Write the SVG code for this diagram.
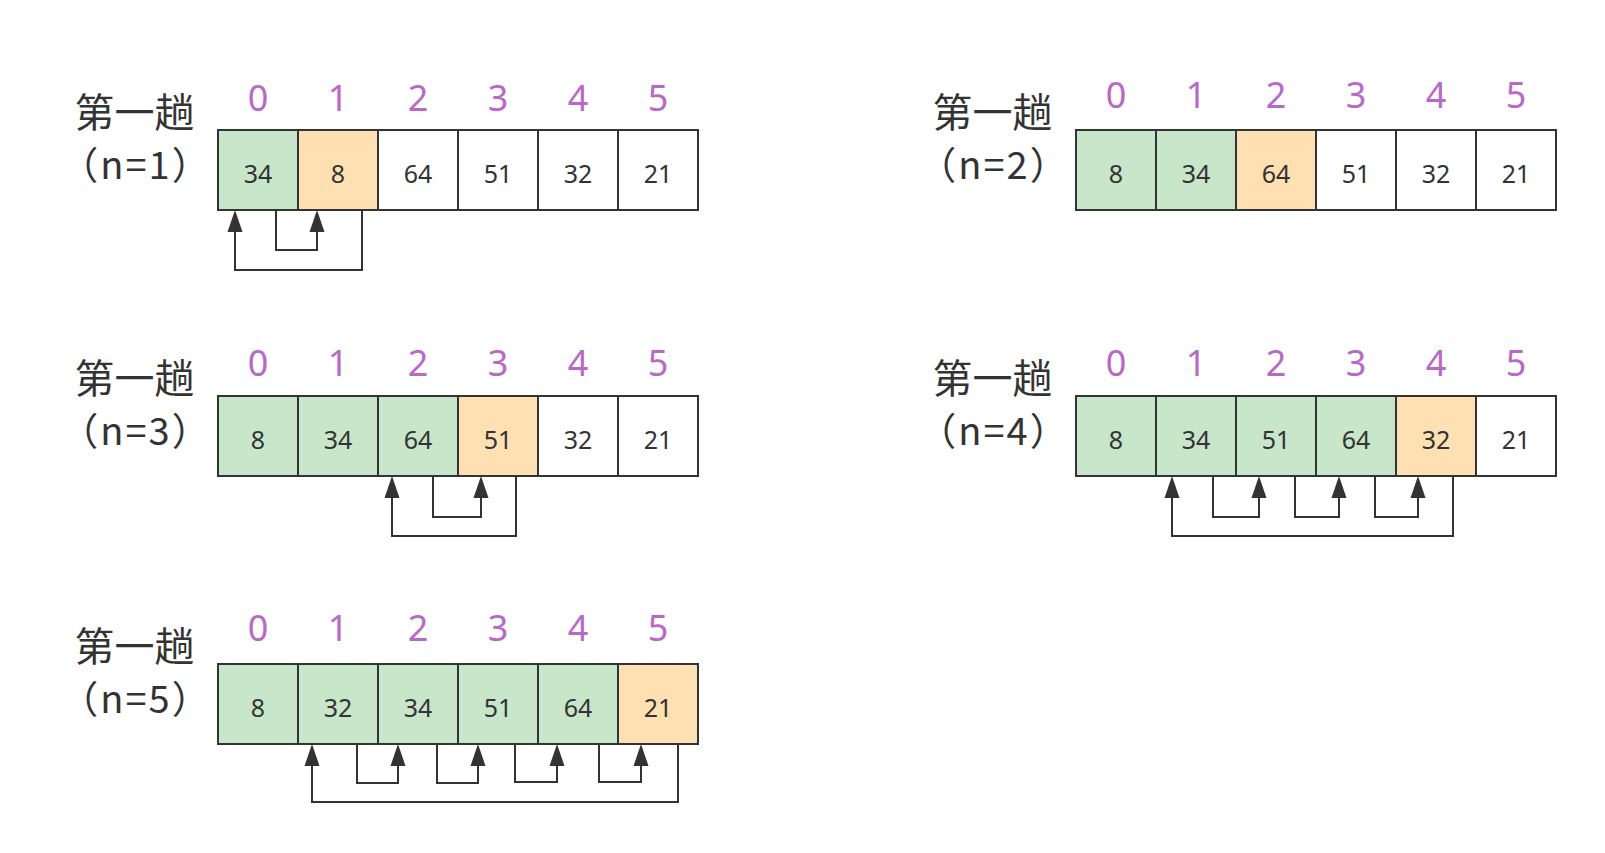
<svg xmlns="http://www.w3.org/2000/svg" width="1605" height="853" viewBox="0 0 1605 853">
<style>
.cell rect{stroke:#333333;stroke-width:2}
.g rect{fill:#C8E6C9}
.o rect{fill:#FFE0B2}
.w rect{fill:#FFFFFF}
.cell text{font-family:"Noto Sans","Noto Sans CJK SC",sans-serif;font-size:25px;fill:#333333;text-anchor:middle}
.idx{font-family:"Noto Sans","Noto Sans CJK SC",sans-serif;font-size:36px;fill:#BA68C8;text-anchor:middle}
.lbl{font-family:"Noto Sans CJK SC","Noto Sans",sans-serif;fill:#333333;text-anchor:middle}
.l1{font-size:40px}
.l2{font-size:38px;letter-spacing:2px}
.conn path{fill:none;stroke:#333333;stroke-width:2;marker-end:url(#ah)}
</style>
<defs>
<marker id="ah" markerUnits="userSpaceOnUse" markerWidth="24" markerHeight="18" refX="0" refY="8" orient="auto" viewBox="0 0 24 16" overflow="visible">
<path d="M0,0.5 L22,8 L0,15.5 Z" fill="#333333"/>
</marker>
</defs>
<rect width="1605" height="853" fill="#FFFFFF"/>

<!-- Panel 1 -->
<g id="pass1">
<text class="lbl l1" x="134.5" y="127">第一趟</text>
<text class="lbl l2" x="136" y="179">（n=1）</text>
<g class="idx-row"><text class="idx" x="258" y="111">0</text><text class="idx" x="338" y="111">1</text><text class="idx" x="418" y="111">2</text><text class="idx" x="498" y="111">3</text><text class="idx" x="578" y="111">4</text><text class="idx" x="658" y="111">5</text></g>
<g id="p1c0" class="cell g"><rect x="218" y="130" width="80" height="80"/><text x="258" y="183">34</text></g>
<g id="p1c1" class="cell o"><rect x="298" y="130" width="80" height="80"/><text x="338" y="183">8</text></g>
<g id="p1c2" class="cell w"><rect x="378" y="130" width="80" height="80"/><text x="418" y="183">64</text></g>
<g id="p1c3" class="cell w"><rect x="458" y="130" width="80" height="80"/><text x="498" y="183">51</text></g>
<g id="p1c4" class="cell w"><rect x="538" y="130" width="80" height="80"/><text x="578" y="183">32</text></g>
<g id="p1c5" class="cell w"><rect x="618" y="130" width="80" height="80"/><text x="658" y="183">21</text></g>
</g>

<!-- Panel 2 -->
<g id="pass2">
<text class="lbl l1" x="992.5" y="127">第一趟</text>
<text class="lbl l2" x="994" y="179">（n=2）</text>
<g class="idx-row"><text class="idx" x="1116" y="108">0</text><text class="idx" x="1196" y="108">1</text><text class="idx" x="1276" y="108">2</text><text class="idx" x="1356" y="108">3</text><text class="idx" x="1436" y="108">4</text><text class="idx" x="1516" y="108">5</text></g>
<g id="p2c0" class="cell g"><rect x="1076" y="130" width="80" height="80"/><text x="1116" y="183">8</text></g>
<g id="p2c1" class="cell g"><rect x="1156" y="130" width="80" height="80"/><text x="1196" y="183">34</text></g>
<g id="p2c2" class="cell o"><rect x="1236" y="130" width="80" height="80"/><text x="1276" y="183">64</text></g>
<g id="p2c3" class="cell w"><rect x="1316" y="130" width="80" height="80"/><text x="1356" y="183">51</text></g>
<g id="p2c4" class="cell w"><rect x="1396" y="130" width="80" height="80"/><text x="1436" y="183">32</text></g>
<g id="p2c5" class="cell w"><rect x="1476" y="130" width="80" height="80"/><text x="1516" y="183">21</text></g>
</g>

<!-- Panel 3 -->
<g id="pass3">
<text class="lbl l1" x="134.5" y="393">第一趟</text>
<text class="lbl l2" x="136" y="445">（n=3）</text>
<g class="idx-row"><text class="idx" x="258" y="376">0</text><text class="idx" x="338" y="376">1</text><text class="idx" x="418" y="376">2</text><text class="idx" x="498" y="376">3</text><text class="idx" x="578" y="376">4</text><text class="idx" x="658" y="376">5</text></g>
<g id="p3c0" class="cell g"><rect x="218" y="396" width="80" height="80"/><text x="258" y="449">8</text></g>
<g id="p3c1" class="cell g"><rect x="298" y="396" width="80" height="80"/><text x="338" y="449">34</text></g>
<g id="p3c2" class="cell g"><rect x="378" y="396" width="80" height="80"/><text x="418" y="449">64</text></g>
<g id="p3c3" class="cell o"><rect x="458" y="396" width="80" height="80"/><text x="498" y="449">51</text></g>
<g id="p3c4" class="cell w"><rect x="538" y="396" width="80" height="80"/><text x="578" y="449">32</text></g>
<g id="p3c5" class="cell w"><rect x="618" y="396" width="80" height="80"/><text x="658" y="449">21</text></g>
</g>

<!-- Panel 4 -->
<g id="pass4">
<text class="lbl l1" x="992.5" y="393">第一趟</text>
<text class="lbl l2" x="994" y="445">（n=4）</text>
<g class="idx-row"><text class="idx" x="1116" y="376">0</text><text class="idx" x="1196" y="376">1</text><text class="idx" x="1276" y="376">2</text><text class="idx" x="1356" y="376">3</text><text class="idx" x="1436" y="376">4</text><text class="idx" x="1516" y="376">5</text></g>
<g id="p4c0" class="cell g"><rect x="1076" y="396" width="80" height="80"/><text x="1116" y="449">8</text></g>
<g id="p4c1" class="cell g"><rect x="1156" y="396" width="80" height="80"/><text x="1196" y="449">34</text></g>
<g id="p4c2" class="cell g"><rect x="1236" y="396" width="80" height="80"/><text x="1276" y="449">51</text></g>
<g id="p4c3" class="cell g"><rect x="1316" y="396" width="80" height="80"/><text x="1356" y="449">64</text></g>
<g id="p4c4" class="cell o"><rect x="1396" y="396" width="80" height="80"/><text x="1436" y="449">32</text></g>
<g id="p4c5" class="cell w"><rect x="1476" y="396" width="80" height="80"/><text x="1516" y="449">21</text></g>
</g>

<!-- Panel 5 -->
<g id="pass5">
<text class="lbl l1" x="134.5" y="661">第一趟</text>
<text class="lbl l2" x="136" y="713">（n=5）</text>
<g class="idx-row"><text class="idx" x="258" y="641">0</text><text class="idx" x="338" y="641">1</text><text class="idx" x="418" y="641">2</text><text class="idx" x="498" y="641">3</text><text class="idx" x="578" y="641">4</text><text class="idx" x="658" y="641">5</text></g>
<g id="p5c0" class="cell g"><rect x="218" y="664" width="80" height="80"/><text x="258" y="717">8</text></g>
<g id="p5c1" class="cell g"><rect x="298" y="664" width="80" height="80"/><text x="338" y="717">32</text></g>
<g id="p5c2" class="cell g"><rect x="378" y="664" width="80" height="80"/><text x="418" y="717">34</text></g>
<g id="p5c3" class="cell g"><rect x="458" y="664" width="80" height="80"/><text x="498" y="717">51</text></g>
<g id="p5c4" class="cell g"><rect x="538" y="664" width="80" height="80"/><text x="578" y="717">64</text></g>
<g id="p5c5" class="cell o"><rect x="618" y="664" width="80" height="80"/><text x="658" y="717">21</text></g>
</g>

<g id="connectors" class="conn">
<path d="M362,210 V270 H235 V232"/>
<path d="M276,210 V250 H317 V232"/>
<path d="M516,476 V536 H392 V498"/>
<path d="M433,476 V517 H481 V498"/>
<path d="M1453,476 V536 H1172 V498"/>
<path d="M1213,476 V517 H1259 V498"/>
<path d="M1295,476 V517 H1339 V498"/>
<path d="M1375,476 V517 H1418 V498"/>
<path d="M678,744 V802 H312 V766"/>
<path d="M357,744 V783 H398 V766"/>
<path d="M437,744 V783 H478 V766"/>
<path d="M515,744 V782 H557 V766"/>
<path d="M599,744 V782 H641 V766"/>
</g>
</svg>
